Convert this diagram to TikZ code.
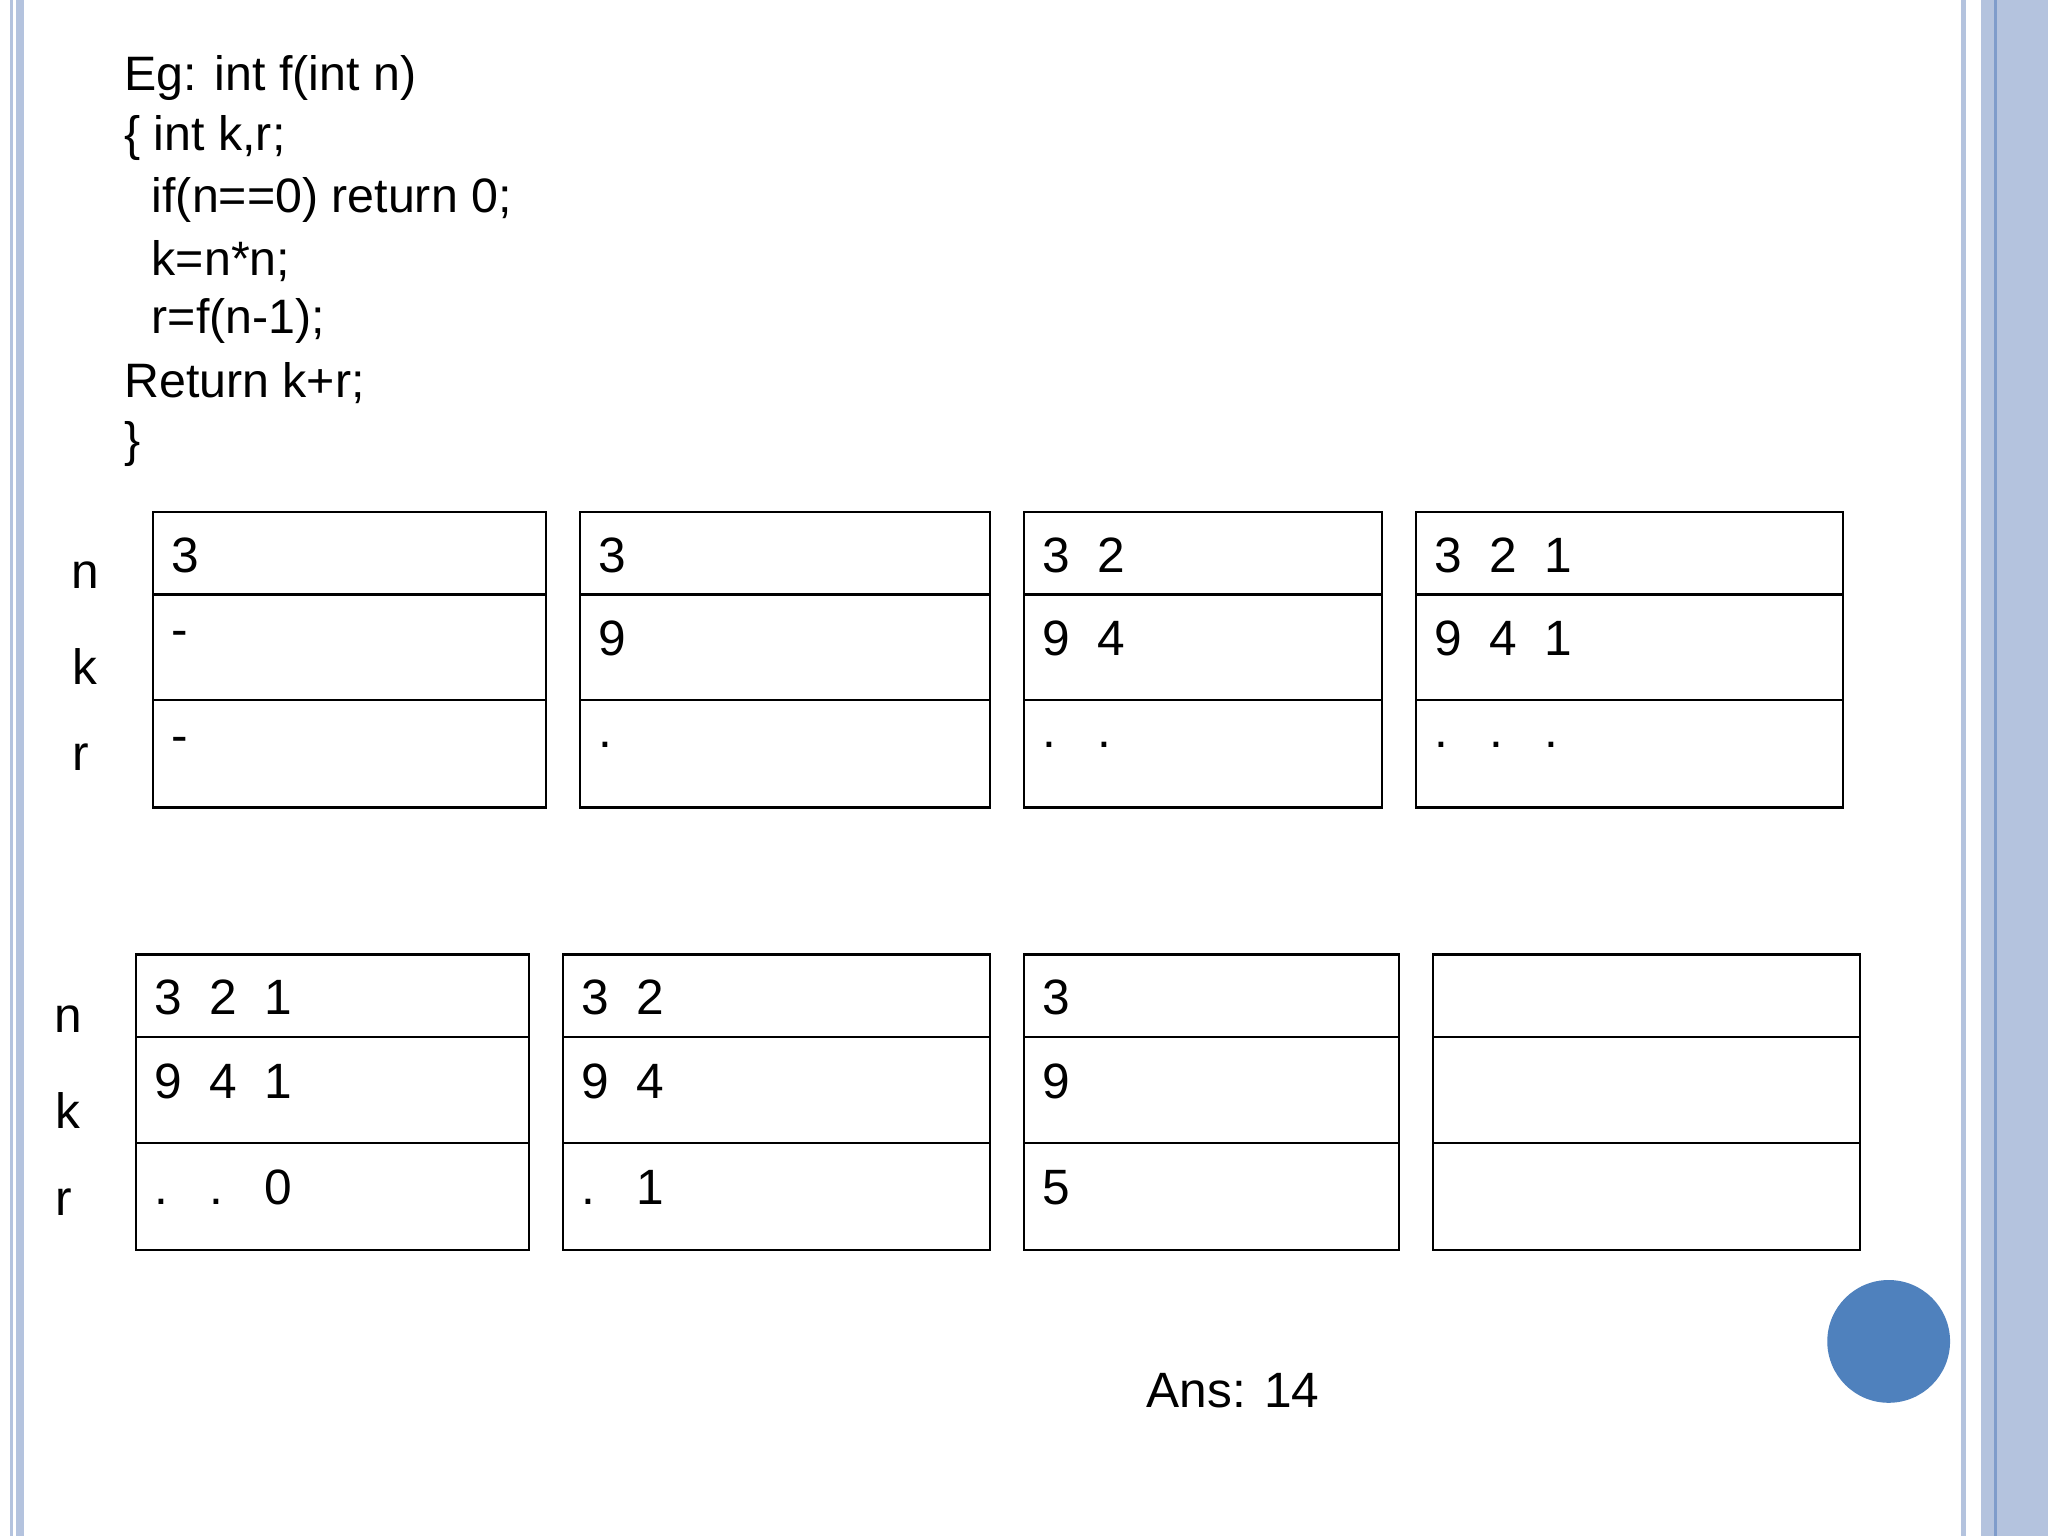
\documentclass[tikz,border=0pt]{standalone}
\usepackage{fontspec}
\setmainfont{Liberation Sans}
\usetikzlibrary{positioning}
\definecolor{stripe}{HTML}{B4C3DE}
\definecolor{stripedark}{HTML}{7F9CCB}
\definecolor{dot}{HTML}{4F81BD}
\newcommand{\frameat}[7]{%
  \draw[cell] (#1,#3) rectangle (#2,#3+226);
  \draw[cell] (#1,#3+63) -- (#2,#3+63);
  \draw[cell] (#1,#3+144) -- (#2,#3+144);
  \node[val] (#1n) at (#1+14,#3+33) {#5};
  \node[val] (#1k) at (#1+14,#3+97) {#6};
  \node[val] (#1r) at (#1+14,#3+178) {#7};
}
\begin{document}
\begin{tikzpicture}[x=1pt,y=-1pt]
\tikzstyle{cell}=[line width=2pt, draw=black]
\tikzstyle{val}=[anchor=west, inner sep=0pt, font=\fontsize{38}{44}\selectfont]
\tikzstyle{code}=[anchor=west, inner sep=0pt, font=\fontsize{37}{44}\selectfont]
\tikzstyle{side}=[inner sep=0pt, font=\fontsize{38}{44}\selectfont]
\useasboundingbox[fill=white] (0,0) rectangle (1568,1176);
% page stripes
\fill[stripe] (8,0) rectangle (10,1176);
\fill[stripe] (12,0) rectangle (18,1176);
\fill[stripe] (1501,0) rectangle (1505,1176);
\fill[stripe] (1517,0) rectangle (1568,1176);
\fill[stripedark] (1527,0) rectangle (1529,1176);
% code
\node[code] (l1) at (95,60) {Eg: int f(int n)};
\node[code] (l2) at (95,106) {\{ int k,r;};
\node[code] (l3) at (116,153) {if(n==0) return 0;};
\node[code] (l4) at (116,200) {k=n*n;};
\node[code] (l5) at (116,246) {r=f(n-1);};
\node[code] (l6) at (95,293) {Return k+r;};
\node[code] (l7) at (95,340) {\}};
% row labels
\node[side] (n1) at (65,440) {n};
\node[side] (k1) at (65,510) {k};
\node[side] (r1) at (62,580) {r};
\node[side] (n2) at (52,780) {n};
\node[side] (k2) at (52,850) {k};
\node[side] (r2) at (49,920) {r};
% stack frames
\frameat{117}{418}{392}{}{3}{-}{-}
\frameat{444}{758}{392}{}{3}{9}{.}
\frameat{784}{1058}{392}{}{3\ \ 2}{9\ \ 4}{.\ \ \ .}
\frameat{1084}{1411}{392}{}{3\ \ 2\ \ 1}{9\ \ 4\ \ 1}{.\ \ \ .\ \ \ .}
\frameat{104}{405}{731}{}{3\ \ 2\ \ 1}{9\ \ 4\ \ 1}{.\ \ \ .\ \ \ 0}
\frameat{431}{758}{731}{}{3\ \ 2}{9\ \ 4}{.\ \ \ 1}
\frameat{784}{1071}{731}{}{3}{9}{5}
\frameat{1097}{1424}{731}{}{}{}{}
\fill[dot] (1446,1027) circle (47);
\node[side] (ans) at (944,1065) {Ans: 14};
\end{tikzpicture}
\end{document}
